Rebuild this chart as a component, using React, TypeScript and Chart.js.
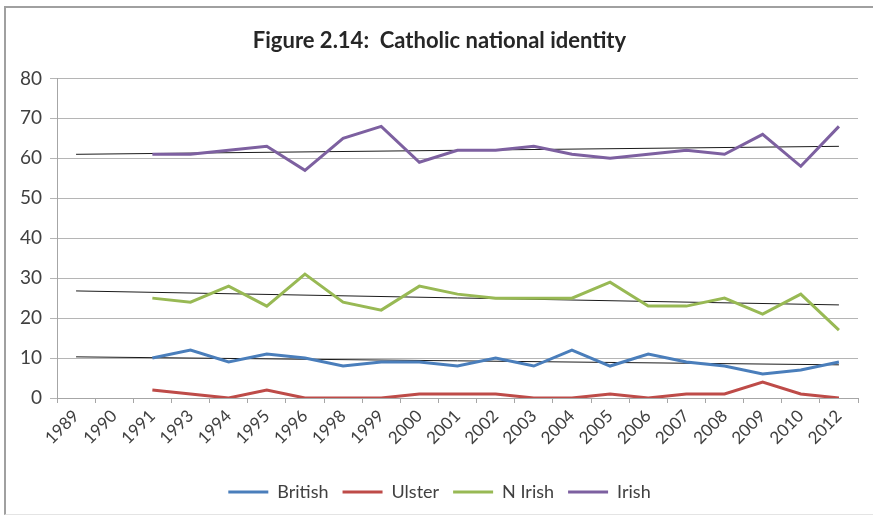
import { useEffect, useRef } from 'react';
import { Chart, registerables } from 'chart.js';

Chart.register(...registerables);

const years = ['1989', '1990', '1991', '1993', '1994', '1995', '1996', '1998', '1999', '2000', '2001',
  '2002', '2003', '2004', '2005', '2006', '2007', '2008', '2009', '2010', '2012'];

// survey values start in 1991 (first two categories are empty)
const british = [null, null, 10, 12, 9, 11, 10, 8, 9, 9, 8, 10, 8, 12, 8, 11, 9, 8, 6, 7, 9];
const ulster = [null, null, 2, 1, 0, 2, 0, 0, 0, 1, 1, 1, 0, 0, 1, 0, 1, 1, 4, 1, 0];
const nIrish = [null, null, 25, 24, 28, 23, 31, 24, 22, 28, 26, 25, 25, 25, 29, 23, 23, 25, 21, 26, 17];
const irish = [null, null, 61, 61, 62, 63, 57, 65, 68, 59, 62, 62, 63, 61, 60, 61, 62, 61, 66, 58, 68];

// linear trend lines, read at the first and last category
const britishTrend = [10.3, ...Array(19).fill(null), 8.3];
const nIrishTrend = [26.8, ...Array(19).fill(null), 23.3];
const irishTrend = [61, ...Array(19).fill(null), 63];

const yTicks = [0, 10, 20, 30, 40, 50, 60, 70, 80];

const FONT = 'Lato, "Noto Sans", sans-serif';

function series(label: string, data: (number | null)[], color: string) {
  return {
    label,
    data,
    borderColor: color,
    backgroundColor: color,
    borderWidth: 3,
    pointRadius: 0,
    tension: 0,
  };
}

function trend(data: (number | null)[]) {
  return {
    label: 'trend',
    data,
    borderColor: '#1a1a1a',
    backgroundColor: '#1a1a1a',
    borderWidth: 1,
    pointRadius: 0,
    spanGaps: true,
  };
}

export default function App() {
  const chartRef = useRef<HTMLCanvasElement>(null);

  useEffect(() => {
    if (!chartRef.current) return;
    const chart = new Chart(chartRef.current, {
      type: 'line',
      data: {
        labels: years,
        datasets: [
          series('British', british, '#4A7EBB'),
          series('Ulster', ulster, '#BE4B48'),
          series('N Irish', nIrish, '#98B954'),
          series('Irish', irish, '#7D60A0'),
          trend(britishTrend),
          trend(nIrishTrend),
          trend(irishTrend),
        ],
      },
      options: {
        animation: false,
        responsive: true,
        maintainAspectRatio: false,
        layout: { padding: { left: 0, right: 0, top: 0, bottom: 4 } },
        plugins: {
          title: {
            display: true,
            text: 'Figure 2.14:  Catholic national identity',
            color: '#262626',
            font: { family: FONT, size: 22, weight: 'bold' },
            padding: { top: 20, bottom: 24 },
          },
          legend: {
            position: 'bottom',
            labels: {
              filter: (item) => (item.datasetIndex ?? 0) < 4,
              usePointStyle: true,
              pointStyle: 'line',
              pointStyleWidth: 40,
              boxHeight: 10,
              padding: 14,
              color: '#404040',
              font: { family: FONT, size: 18 },
            },
          },
          tooltip: { enabled: false },
        },
        scales: {
          x: {
            offset: true,
            grid: {
              offset: true,
              drawOnChartArea: false,
              tickLength: 5,
              color: '#a6a6a6',
            },
            border: { color: '#a6a6a6' },
            ticks: {
              autoSkip: false,
              minRotation: 45,
              maxRotation: 45,
              color: '#404040',
              font: { family: FONT, size: 17 },
            },
            afterFit: (scale) => {
              scale.height = 71;
            },
          },
          y: {
            min: 0,
            max: 80,
            afterBuildTicks: (scale) => {
              scale.ticks = yTicks.map((v) => ({ value: v }));
            },
            grid: { color: '#b5b5b5', tickLength: 7 },
            border: { color: '#a6a6a6' },
            ticks: {
              color: '#404040',
              padding: 8,
              font: { family: FONT, size: 19 },
            },
            afterFit: (scale) => {
              scale.width = 51;
            },
          },
          // empty right-hand strip so the title and legend centre on the whole frame
          rightGap: {
            type: 'linear',
            position: 'right',
            grid: { display: false },
            border: { display: false },
            ticks: { display: false },
            afterFit: (scale) => {
              scale.width = 15;
            },
          },
        },
      },
    });
    return () => chart.destroy();
  }, []);

  return (
    <div style={{ position: 'absolute', left: 0, top: 0, width: 873, height: 515, background: '#fff' }}>
      <div
        style={{
          position: 'absolute',
          left: 4,
          top: 6,
          width: 869,
          height: 509,
          boxSizing: 'border-box',
          borderLeft: '2px solid #a0a0a0',
          borderTop: '2px solid #a0a0a0',
          borderBottom: '1px solid #e4e4e4',
        }}
      />
      <div style={{ position: 'absolute', left: 6, top: 8, width: 867, height: 507 }}>
        <canvas ref={chartRef} />
      </div>
    </div>
  );
}
